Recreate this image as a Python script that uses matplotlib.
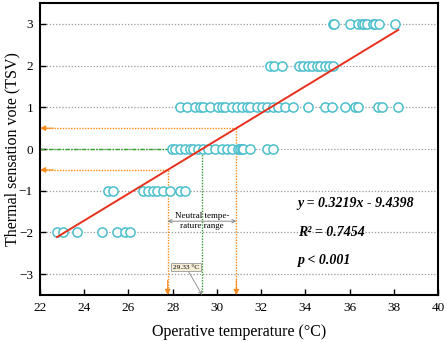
import matplotlib
matplotlib.use('Agg')
import matplotlib.pyplot as plt

plt.rcParams['font.family'] = ['Liberation Serif', 'DejaVu Serif']
plt.rcParams['mathtext.fontset'] = 'stix'

# Thermal sensation votes and the operative temperatures they were cast at
tsv_levels = [3, 2, 1, 0, -1, -2]
temps_by_level = {
    3: [35.24, 35.3, 36.03, 36.39, 36.55, 36.66, 36.8, 37.07, 37.16, 37.34, 38.06],
    2: [32.41, 32.59, 32.95, 33.72, 33.9, 34.13, 34.31, 34.53, 34.67, 34.9, 35.08, 35.26],
    1: [28.33, 28.65, 29.01, 29.24, 29.38, 29.69, 30.05, 30.24, 30.37, 30.69,
        30.91, 31.14, 31.37, 31.5, 31.82, 32.05, 32.27, 32.54, 32.77, 33.09,
        33.45, 34.13, 34.9, 35.21, 35.8, 36.25, 36.39, 37.29, 37.48, 38.2],
    0: [27.97, 28.11, 28.33, 28.56, 28.79, 28.92, 29.15, 29.38, 29.6, 29.92,
        30.24, 30.46, 30.69, 30.96, 31.05, 31.14, 31.19, 31.5, 32.27, 32.54],
    -1: [25.08, 25.3, 26.66, 26.9, 27.1, 27.3, 27.57, 27.88, 28.33, 28.56],
    -2: [22.77, 23.04, 23.67, 24.8, 25.48, 25.85, 26.07],
}

# regression result
slope = 0.3219
intercept = -9.4398
fit_range = [22.77, 38.2]
neutral_temp = 29.33
comfort_band = [-0.5, 0.5]

cyan = '#4bbfcc'
orange = '#f98b1c'
green = '#33a02c'

fig = plt.figure(figsize=(4.47, 3.42), dpi=100)
ax = fig.add_axes([0.0895, 0.1374, 0.8905, 0.8536])

ax.set_xlim(22, 40)
ax.set_ylim(-3.5, 3.5)

# dotted grid at every vote level
for lv in range(-3, 4):
    ax.axhline(lv, color='#9a9a9a', lw=0.9, ls=(0, (1, 1.5)), zorder=1)

# green neutral lines
ax.plot([22, neutral_temp], [0, 0], color=green, lw=1.0, ls=(0, (3, 1, 1, 1)), zorder=2)
ax.plot([neutral_temp, neutral_temp], [0, -3.5], color=green, lw=1.0, ls=(0, (1, 1)), zorder=2)

# orange comfort band lines with arrows
band_x = []
for yv in comfort_band:
    xv = (yv - intercept) / slope
    band_x.append(xv)
    ax.plot([22, xv], [yv, yv], color=orange, lw=1.0, ls=(0, (1, 1)), zorder=2)
    ax.plot([xv, xv], [yv, -3.5], color=orange, lw=1.0, ls=(0, (1, 1)), zorder=2)
    ax.annotate('', xy=(22, yv), xytext=(22.6, yv),
                arrowprops=dict(arrowstyle='-|>', color=orange, lw=0.8,
                                mutation_scale=8, shrinkA=0, shrinkB=0), zorder=3)
    ax.annotate('', xy=(xv, -3.5), xytext=(xv, -3.15),
                arrowprops=dict(arrowstyle='-|>', color=orange, lw=0.8,
                                mutation_scale=8, shrinkA=0, shrinkB=0), zorder=3)

# scatter of votes
for lv in tsv_levels:
    t = temps_by_level[lv]
    ax.plot(t, [lv] * len(t), 'o', ms=6.6, mfc='white', mec=cyan, mew=1.1, zorder=4)

# regression line
ax.plot(fit_range, [slope * x + intercept for x in fit_range], color='#e8301c', lw=1.4, zorder=5)

# neutral range annotation
mid = (band_x[0] + band_x[1]) / 2
ax.annotate('', xy=(band_x[0], -1.73), xytext=(band_x[1], -1.73),
            arrowprops=dict(arrowstyle='<->', color='#888888', lw=0.7,
                            mutation_scale=6, shrinkA=0, shrinkB=0), zorder=3)
ax.text(mid, -1.73, 'Neutral tempe-\nrature range', ha='center', va='center',
        fontsize=6.5, linespacing=1.3, zorder=6)

ax.annotate('%.2f °C' % neutral_temp, xy=(neutral_temp, -3.5), xytext=(28.6, -2.83),
            ha='center', va='center', fontsize=5.3,
            bbox=dict(boxstyle='square,pad=0.25', fc='#f6edd6', ec='#999999', lw=0.6),
            arrowprops=dict(arrowstyle='->', color='#888888', lw=0.6,
                            mutation_scale=6, shrinkA=0, shrinkB=0), zorder=6)

# equation text
ax.text(33.65, -1.3, 'y = 0.3219x - 9.4398', fontsize=10, fontweight='bold',
        style='italic', va='center', zorder=6)
ax.text(33.65, -1.99, 'R² = 0.7454', fontsize=10, fontweight='bold',
        style='italic', va='center', zorder=6)
ax.text(33.65, -2.67, 'p < 0.001', fontsize=10, fontweight='bold',
        style='italic', va='center', zorder=6)

ax.set_xticks(range(22, 41, 2))
ax.set_yticks(range(-3, 4))
ax.tick_params(direction='in', length=4, width=1, labelsize=9.5, pad=5)
ax.set_yticklabels([str(v).replace('-', '−') for v in range(-3, 4)])
for s in ax.spines.values():
    s.set_linewidth(1.5)

ax.set_xlabel('Operative temperature (°C)', fontsize=11.5, labelpad=7)
ax.set_ylabel('Thermal sensation vote (TSV)', fontsize=11.5)
ax.yaxis.set_label_coords(-0.05, 0.5)

fig.savefig('out.png', dpi=100)
